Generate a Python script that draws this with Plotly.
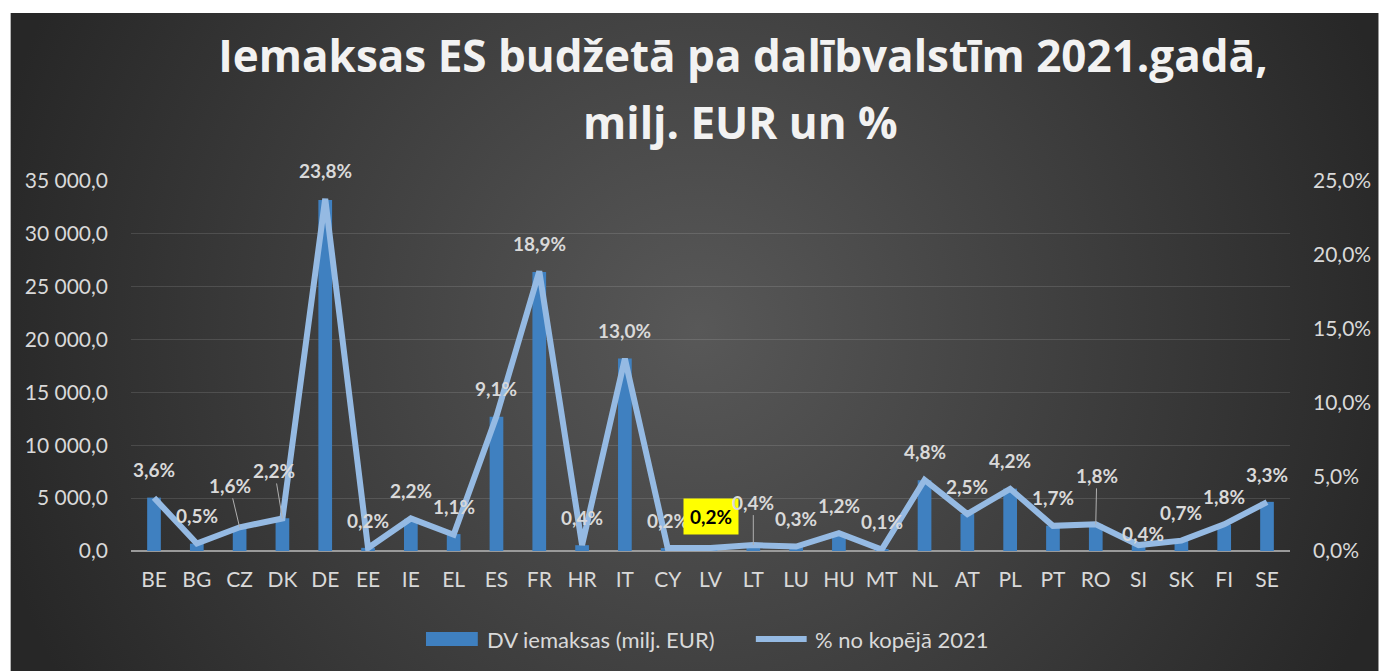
import base64
import plotly.graph_objects as go

# ---------------- data ----------------
countries = ["BE", "BG", "CZ", "DK", "DE", "EE", "IE", "EL", "ES", "FR", "HR", "IT", "CY", "LV",
             "LT", "LU", "HU", "MT", "NL", "AT", "PL", "PT", "RO", "SI", "SK", "FI", "SE"]
contrib_meur = [5050, 700, 2200, 3100, 33200, 300, 3050, 1600, 12700, 26400, 550, 18200, 280, 320,
                580, 420, 1650, 150, 6700, 3500, 5900, 2400, 2550, 560, 980, 2500, 4650]
share_pct = [3.6, 0.5, 1.6, 2.2, 23.8, 0.2, 2.2, 1.1, 9.1, 18.9, 0.4, 13.0, 0.2, 0.2,
             0.4, 0.3, 1.2, 0.1, 4.8, 2.5, 4.2, 1.7, 1.8, 0.4, 0.7, 1.8, 3.3]

title_line1 = "Iemaksas ES budžetā pa dalībvalstīm 2021.gadā,"
title_line2 = "milj. EUR un %"
bar_name = "DV iemaksas (milj. EUR)"
line_name = "% no kopējā 2021"
highlight = "LV"

# ---------------- styling / geometry ----------------
W, H = 1383, 671
ML, MR, MT, MB = 131, 89, 181, 120
PW, PH = W - ML - MR, H - MT - MB

def px_x(px):
    return (px - ML) / PW

def px_y(py):
    return (H - MB - py) / PH

TXT = "#d9d9d9"
FONT = "Lato"
TITLE_FONT = "Open Sans"
BAR_C = "#3f80c0"
LINE_C = "#95bae3"

# label offsets (dx, up) in pixels, leader flag
label_style = {
    "CZ": (-10, 42, True),
    "DK": (-8, 48, True),
    "LT": (0, 43, True),
    "RO": (1, 49, True),
    "SI": (4, 12, False),
    "LV": (0, 32, False),
}
default_up = 28

fig = go.Figure()
fig.add_trace(go.Bar(x=countries, y=contrib_meur, name=bar_name, marker=dict(color=BAR_C, line=dict(width=0)),
                     width=0.32, showlegend=False))
fig.add_trace(go.Scatter(x=countries, y=share_pct, name=line_name, yaxis="y2", mode="lines",
                         line=dict(color=LINE_C, width=6), showlegend=False))

annotations = []
for c, v in zip(countries, share_pct):
    txt = f"{v:.1f}".replace(".", ",") + "%"
    dx, up, leader = label_style.get(c, (0, default_up, False))
    if c == highlight:
        annotations.append(dict(x=c, y=v, xref="x", yref="y2", text=txt, showarrow=False,
                                xshift=dx, yshift=up, yanchor="middle",
                                font=dict(family=FONT, size=19, color="#000000", weight="bold"),
                                bgcolor="#ffff00", borderpad=6))
    elif leader:
        annotations.append(dict(x=c, y=v, xref="x", yref="y2", text=txt, showarrow=True,
                                ax=dx, ay=-up, axref="pixel", ayref="pixel", arrowhead=0,
                                arrowwidth=1, arrowcolor="#b0b0b0", standoff=0,
                                font=dict(family=FONT, size=19, color=TXT, weight="bold")))
    else:
        annotations.append(dict(x=c, y=v, xref="x", yref="y2", text=txt, showarrow=False,
                                xshift=dx, yshift=up, yanchor="middle",
                                font=dict(family=FONT, size=19, color=TXT, weight="bold")))

# second title line
annotations.append(dict(x=px_x(743), y=px_y(122), xref="paper", yref="paper", text=title_line2,
                        showarrow=False, xanchor="center", yanchor="middle",
                        font=dict(family=TITLE_FONT, size=44, color="#f2f2f2", weight="bold")))

# legend (custom)
leg_y = 639
annotations.append(dict(x=px_x(486), y=px_y(leg_y), xref="paper", yref="paper", text=bar_name,
                        showarrow=False, xanchor="left", yanchor="middle",
                        font=dict(family=FONT, size=22, color=TXT)))
annotations.append(dict(x=px_x(815), y=px_y(leg_y), xref="paper", yref="paper", text=line_name,
                        showarrow=False, xanchor="left", yanchor="middle",
                        font=dict(family=FONT, size=22, color=TXT)))
shapes = [
    dict(type="rect", xref="paper", yref="paper", x0=px_x(427), x1=px_x(479),
         y0=px_y(646), y1=px_y(632), fillcolor=BAR_C, line=dict(width=0)),
    dict(type="line", xref="paper", yref="paper", x0=px_x(758), x1=px_x(809),
         y0=px_y(leg_y), y1=px_y(leg_y), line=dict(color=LINE_C, width=6)),
]

# background radial gradient
svg = ("<svg xmlns='http://www.w3.org/2000/svg' width='1373' height='658' viewBox='0 0 1373 658'>"
       "<defs><radialGradient id='g' gradientUnits='userSpaceOnUse' cx='690' cy='317' r='730'>"
       "<stop offset='0' stop-color='#585858'/><stop offset='1' stop-color='#272727'/>"
       "</radialGradient></defs><rect x='0' y='0' width='1373' height='658' fill='url(#g)'/></svg>")
bg_src = "data:image/svg+xml;base64," + base64.b64encode(svg.encode()).decode()

fig.update_layout(
    width=W, height=H,
    margin=dict(l=ML, r=MR, t=MT, b=MB),
    paper_bgcolor="#ffffff",
    plot_bgcolor="rgba(0,0,0,0)",
    separators=", ",
    title=dict(text=title_line1, x=743 / W, xanchor="center", xref="container",
               y=1 - 57 / H, yanchor="middle", yref="container",
               font=dict(family=TITLE_FONT, size=44, color="#f2f2f2", weight="bold")),
    images=[dict(source=bg_src, xref="paper", yref="paper", x=px_x(10), y=px_y(13),
                 sizex=1373 / PW, sizey=658 / PH, xanchor="left", yanchor="top",
                 sizing="stretch", layer="below")],
    xaxis=dict(type="category", showgrid=False, showline=False, zeroline=False,
               tickfont=dict(family=FONT, size=21, color=TXT), ticks="", ticklabelstandoff=14),
    yaxis=dict(range=[0, 35000], dtick=5000, tickformat=",.1f", showgrid=True,
               gridcolor="rgba(255,255,255,0.12)", gridwidth=1, zeroline=True,
               zerolinecolor="#9a9a9a", zerolinewidth=2, showline=False,
               tickfont=dict(family=FONT, size=21, color=TXT), ticks="", ticklabelstandoff=22),
    yaxis2=dict(range=[0, 25], dtick=5, tickformat=".1f", ticksuffix="%", overlaying="y",
                side="right", showgrid=False, zeroline=False, showline=False,
                tickfont=dict(family=FONT, size=21, color=TXT), ticks="", ticklabelstandoff=22),
    bargap=0.6,
    showlegend=False,
    annotations=annotations,
    shapes=shapes,
)

fig.write_html("out.html", config={"displayModeBar": False},
               post_script="document.body.style.margin='0';")
